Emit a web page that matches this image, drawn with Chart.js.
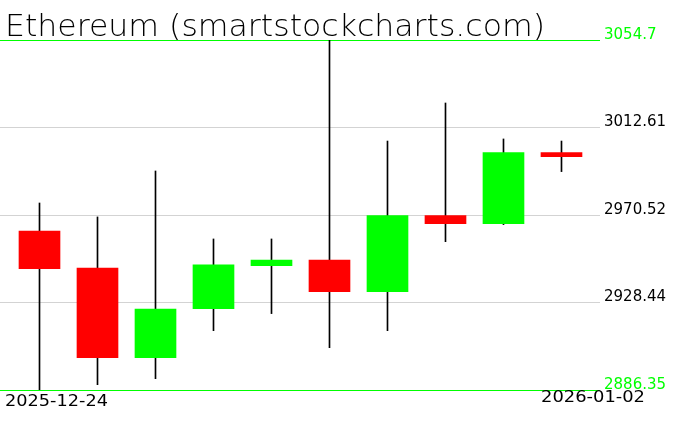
<!DOCTYPE html>
<html>
<head>
<meta charset="utf-8">
<script src="https://cdn.jsdelivr.net/npm/chart.js@4.4.1/dist/chart.umd.min.js"></script>
<style>
  html, body { margin: 0; padding: 0; background: #fff; }
  canvas { display: block; }
</style>
</head>
<body>
<canvas id="chart" width="676" height="431"></canvas>
<script>
const titleText = "Ethereum (smartstockcharts.com)";
const dates = ["2025-12-24", "2025-12-25", "2025-12-26", "2025-12-27", "2025-12-28",
               "2025-12-29", "2025-12-30", "2025-12-31", "2026-01-01", "2026-01-02"];
const opens  = [2962.8, 2945.0, 2901.9, 2925.5, 2946.1, 2948.9, 2933.6, 2970.2, 2966.3, 3000.5];
const highs  = [2976.3, 2969.6, 2991.7, 2959.0, 2959.0, 3054.7, 3006.1, 3024.4, 3007.1, 3006.1];
const lows   = [2886.35, 2888.9, 2891.8, 2914.9, 2923.1, 2906.7, 2914.9, 2957.7, 2965.9, 2991.4];
const closes = [2944.7, 2901.9, 2925.3, 2946.5, 2948.9, 2933.6, 2970.2, 2966.3, 3000.5, 2998.6];
const tickValues = [2886.35, 2928.44, 2970.52, 3012.61, 3054.7];
const tickLabels = ["2886.35", "2928.44", "2970.52", "3012.61", "3054.7"];

const UP = "#00ff00";
const DOWN = "#ff0000";

// draw text squeezed/stretched to a given width
function fitText(ctx, text, x, y, width) {
  const w = ctx.measureText(text).width;
  ctx.save();
  ctx.translate(x, y);
  ctx.scale(width / w, 1);
  ctx.fillText(text, 0, 0);
  ctx.restore();
}

const labelsPlugin = {
  id: "labels",
  afterDraw(chart) {
    const ctx = chart.ctx;
    ctx.save();
    ctx.fillStyle = "#000";
    ctx.textAlign = "left";
    ctx.textBaseline = "alphabetic";
    ctx.font = '200 30px "DejaVu Sans"';
    fitText(ctx, titleText, 5, 36, 540);
    ctx.font = '16px "DejaVu Sans"';
    fitText(ctx, dates[0], 5, 406, 103);
    fitText(ctx, dates[dates.length - 1], 541, 402, 104);
    ctx.restore();
  }
};

Chart.defaults.font.family = '"DejaVu Sans"';

new Chart(document.getElementById("chart"), {
  type: "bar",
  data: {
    datasets: [
      {
        // wicks, drawn underneath the bodies
        data: dates.map((d, i) => ({ x: i, y: [lows[i], highs[i]] })),
        backgroundColor: "#000",
        barThickness: 1,
        grouped: false,
        order: 2,
      },
      {
        // bodies
        data: dates.map((d, i) => ({ x: i, y: [opens[i], closes[i]] })),
        backgroundColor: dates.map((d, i) => closes[i] >= opens[i] ? UP : DOWN),
        barThickness: 41,
        grouped: false,
        order: 1,
      },
    ],
  },
  options: {
    responsive: false,
    animation: false,
    layout: { padding: { top: 40, bottom: 41, left: 0, right: 0 } },
    plugins: {
      legend: { display: false },
      tooltip: { enabled: false },
    },
    scales: {
      x: {
        type: "linear",
        offset: false,
        min: -0.681,
        max: 9.664,
        display: false,
      },
      y: {
        position: "right",
        min: tickValues[0],
        max: tickValues[tickValues.length - 1],
        afterBuildTicks: (scale) => {
          scale.ticks = tickValues.map((v) => ({ value: v }));
        },
        afterFit: (scale) => {
          scale.width = 76;
        },
        border: { display: false },
        grid: {
          drawTicks: false,
          color: (c) => (c.index === 0 || c.index === tickValues.length - 1) ? UP : "#d3d3d3",
        },
        ticks: {
          padding: 4,
          labelOffset: -5,
          font: { size: 15 },
          color: (c) => (c.index === 0 || c.index === tickValues.length - 1) ? UP : "#000",
          callback: (v, i) => tickLabels[i],
        },
      },
    },
  },
  plugins: [labelsPlugin],
});
</script>
</body>
</html>
